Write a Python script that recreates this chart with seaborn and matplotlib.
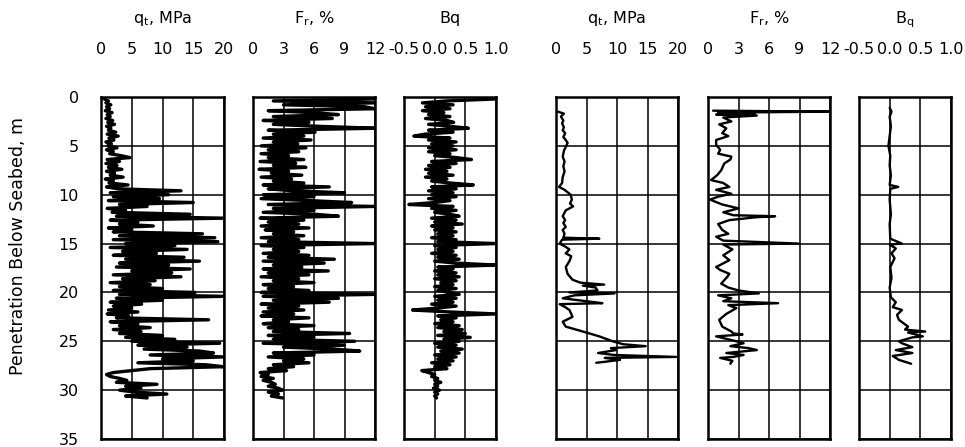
import numpy as np
import pandas as pd
import matplotlib
matplotlib.use("Agg")
import matplotlib.pyplot as plt
import seaborn as sns

# ---------------- data ----------------
# Left profile (dense CPT record, sampled every 0.2 m from 0.2 m to 30.8 m)
left_step_m = 0.2
left_qt = [
    0.5, 1.2, 0.8, 1.6, 0.9, 1.4, 0.7, 1.8, 1.0, 1.5,
    0.8, 1.9, 1.1, 2.2, 0.9, 1.6, 1.2, 2.4, 1.0, 2.8,
    1.3, 2.1, 0.8, 1.7, 1.1, 2.6, 0.9, 2.0, 1.4, 3.2,
    4.7, 1.0, 3.0, 0.8, 2.6, 1.2, 3.4, 0.9, 2.2, 1.5,
    3.6, 0.7, 2.0, 1.3, 4.4, 0.9, 2.8, 13.0, 1.5, 11.0,
    2.0, 9.5, 1.2, 15.0, 3.0, 7.5, 1.0, 4.0, 1.8, 14.5,
    2.5, 20.0, 1.5, 6.0, 3.0, 8.5, 1.2, 5.0, 2.0, 16.5,
    3.0, 18.5, 2.0, 19.0, 4.0, 12.0, 1.5, 14.0, 3.5, 9.0,
    2.0, 13.5, 4.0, 16.0, 3.0, 11.0, 2.5, 14.5, 5.0, 11.5,
    2.0, 13.0, 3.5, 8.8, 1.5, 8.0, 3.0, 10.0, 2.0, 15.3,
    3.0, 20.0, 2.5, 10.0, 1.5, 6.6, 2.0, 5.0, 1.2, 6.0,
    1.0, 4.5, 2.5, 17.5, 1.5, 6.0, 3.0, 8.0, 2.0, 6.5,
    3.0, 10.0, 4.0, 12.0, 5.0, 19.3, 6.0, 14.0, 7.0, 16.0,
    18.3, 8.0, 19.9, 10.0, 15.0, 6.0, 17.0, 19.9, 8.0, 5.0,
    2.0, 0.9, 1.5, 3.0, 4.2, 2.5, 9.1, 4.0, 6.5, 3.0,
    5.5, 10.7, 4.0, 7.5,
]
left_fr = [
    12.0, 2.0, 12.0, 3.0, 11.0, 12.0, 1.5, 6.0, 8.4, 2.0,
    7.8, 1.0, 5.5, 2.0, 6.5, 12.0, 1.5, 6.1, 2.0, 5.0,
    1.0, 5.7, 2.0, 4.4, 0.8, 5.2, 1.5, 4.5, 0.8, 3.5,
    1.5, 5.0, 0.7, 4.2, 2.0, 5.2, 0.6, 3.5, 1.8, 4.8,
    0.8, 3.8, 2.0, 5.0, 1.0, 7.5, 1.5, 4.0, 9.0, 1.0,
    6.0, 0.8, 5.5, 9.7, 1.5, 12.0, 2.0, 6.0, 1.0, 6.1,
    8.4, 0.7, 5.0, 1.5, 4.5, 0.8, 5.5, 1.2, 4.0, 2.0,
    5.0, 0.8, 4.5, 1.5, 12.0, 0.8, 5.0, 2.0, 4.5, 1.0,
    5.5, 1.5, 8.0, 1.0, 7.0, 2.0, 4.8, 1.0, 7.4, 1.5,
    5.5, 0.8, 4.5, 2.0, 6.0, 1.0, 4.0, 1.5, 5.5, 0.8,
    12.0, 1.0, 8.4, 2.0, 7.5, 0.8, 4.5, 1.5, 5.0, 1.0,
    4.0, 0.8, 5.5, 2.0, 3.5, 1.0, 6.0, 1.5, 4.5, 2.0,
    9.5, 1.5, 6.0, 2.0, 10.0, 1.0, 9.0, 3.0, 8.0, 10.5,
    2.0, 6.0, 1.5, 5.0, 3.0, 5.5, 2.0, 4.0, 1.5, 3.3,
    0.7, 1.5, 0.8, 2.0, 1.0, 1.8, 2.2, 1.5, 2.5, 2.9,
    1.5, 2.5, 1.8, 2.9,
]
left_bq = [
    1.0, 0.2, -0.2, 0.3, -0.15, 0.25, -0.2, 0.15, -0.1, 0.25,
    -0.15, 0.2, 0.31, -0.1, 0.25, 0.55, -0.1, 0.3, -0.15, -0.34,
    0.25, -0.1, 0.35, -0.05, 0.3, -0.1, 0.35, -0.1, 0.25, 0.0,
    0.35, 0.6, -0.05, 0.35, -0.1, 0.25, -0.15, 0.2, -0.1, 0.3,
    -0.15, 0.2, -0.05, 0.25, 0.63, -0.05, 0.35, -0.1, 0.3, -0.05,
    0.35, -0.1, 0.25, 0.0, -0.42, 0.3, -0.05, 0.35, 0.0, 0.25,
    0.4, -0.05, 0.35, 0.0, 0.45, -0.05, 0.3, 0.0, 0.35, 0.05,
    0.3, -0.05, 0.35, 0.05, 1.0, 0.0, 0.35, 0.05, 0.3, -0.05,
    0.35, 0.05, 0.4, 0.0, 0.35, 1.0, 0.05, 0.3, 0.0, 0.35,
    0.05, 0.4, 0.0, 0.35, 0.1, 0.3, 0.0, 0.35, 0.05, 0.25,
    0.4, 0.0, 0.35, 0.05, 0.3, -0.05, 0.35, 0.05, -0.36, 0.25,
    1.0, 0.05, 0.35, 0.1, 0.3, 0.0, 0.4, 0.05, 0.45, 0.15,
    0.5, 0.05, 0.58, 0.15, 0.4, 0.0, 0.35, 0.05, 0.45, 0.1,
    0.4, 0.0, 0.35, 0.05, 0.3, -0.05, 0.25, 0.0, 0.2, -0.21,
    -0.1, 0.0, -0.05, 0.05, 0.0, 0.1, 0.0, 0.05, -0.02, 0.08,
    0.0, 0.05, 0.0, 0.03,
]

# Right profile (sparser record)
right_qt_depth = [1.5, 1.7, 2.0, 2.4, 2.7, 3.1, 3.4, 3.7, 4.1, 4.4, 4.7, 5.1, 5.5,
                  6.1, 6.6, 7.1, 7.6, 8.2, 8.8, 9.2, 9.5, 10.0, 10.5, 10.9, 11.2,
                  11.6, 12.2, 12.6, 12.9, 13.3, 13.6, 14.0, 14.4, 14.5, 14.6, 15.0,
                  15.3, 15.6, 16.0, 16.3, 16.8, 17.4, 18.1, 18.7, 19.0, 19.2, 19.3,
                  19.5, 19.8, 20.0, 20.1, 20.3, 20.6, 20.9, 21.1, 21.2, 21.5, 21.8,
                  22.2, 22.5, 23.0, 23.5, 24.0, 24.5, 25.0, 25.3, 25.5, 25.7, 25.9,
                  26.2, 26.4, 26.6, 26.7, 26.9, 27.1, 27.2]
right_qt = [0.3, 1.3, 0.8, 1.2, 1.0, 1.3, 1.1, 1.5, 1.2, 1.6, 1.9, 1.6, 1.3,
            1.1, 1.4, 1.2, 1.4, 1.1, 1.0, 0.5, 1.4, 2.4, 2.6, 2.3, 2.8,
            1.6, 1.1, 1.5, 1.2, 1.6, 1.1, 1.4, 1.2, 7.1, 1.0, 0.6,
            1.5, 2.2, 1.6, 2.5, 2.2, 1.6, 1.9, 2.7, 4.0, 7.9, 4.4,
            6.5, 6.8, 2.2, 9.6, 3.0, 1.1, 5.0, 7.6, 0.6, 1.5, 2.2,
            2.5, 2.7, 1.1, 1.6, 4.4, 7.1, 9.3, 11.0, 14.7, 9.0, 9.8,
            6.9, 9.5, 19.7, 8.0, 10.5, 8.0, 6.6]

right_fr_depth = [1.4, 1.5, 1.6, 1.7, 1.8, 1.9, 2.1, 2.5, 2.8, 3.2, 3.7, 4.0, 4.4,
                  4.9, 5.4, 5.8, 6.1, 6.4, 6.8, 7.5, 8.0, 8.5, 8.8, 9.2, 9.5, 9.9,
                  10.2, 10.5, 11.0, 11.4, 11.8, 12.1, 12.2, 12.3, 12.6, 13.0, 13.6,
                  14.0, 14.3, 14.7, 15.0, 15.1, 15.6, 16.2, 16.7, 17.4, 17.7, 18.1,
                  18.4, 19.1, 19.5, 19.8, 20.1, 20.3, 20.6, 20.9, 21.1, 21.3, 21.6,
                  22.2, 22.8, 23.5, 24.0, 24.2, 24.3, 24.5, 25.0, 25.2, 25.5, 25.7,
                  25.9, 26.2, 26.4, 26.6, 26.7, 27.0, 27.3]
right_fr = [0.5, 12.0, 1.0, 4.6, 0.8, 4.8, 1.5, 2.3, 1.1, 1.8, 1.4, 2.0, 0.8,
            0.8, 1.2, 1.0, 2.3, 2.2, 1.6, 1.3, 0.9, 0.3, 1.5, 2.1, 0.8, 2.3,
            1.0, 0.2, 1.4, 3.0, 1.5, 2.5, 6.6, 4.8, 2.1, 1.0, 1.4,
            2.0, 0.8, 1.5, 8.9, 1.5, 2.4, 1.5, 2.1, 0.8, 1.2, 2.1,
            1.9, 1.3, 2.0, 3.0, 5.0, 1.0, 2.3, 1.5, 6.9, 2.0, 2.8,
            1.8, 1.1, 1.4, 2.3, 2.5, 3.4, 0.8, 2.8, 3.5, 2.2, 4.0,
            4.8, 1.8, 3.5, 2.5, 1.2, 2.4, 2.2]

right_bq_depth = [1.1, 1.5, 2.0, 3.0, 4.0, 5.0, 6.0, 7.0, 8.0, 9.0, 9.2, 9.4,
                  10.5, 12.0, 13.0, 14.5, 15.0, 15.1, 15.5, 16.0, 16.5, 17.4,
                  18.5, 19.5, 20.5, 21.0, 21.5, 21.8, 22.3, 22.8, 23.5, 23.8,
                  24.0, 24.1, 24.5, 24.6, 25.0, 25.2, 25.6, 25.9, 26.2, 26.5,
                  26.9, 27.3]
right_bq = [0.0, 0.03, 0.0, 0.02, 0.0, -0.02, 0.01, 0.0, 0.02, 0.0, 0.14, 0.01,
            0.0, 0.02, 0.0, 0.01, 0.2, 0.0, 0.1, 0.03, 0.08, 0.01,
            0.03, 0.0, 0.02, 0.1, 0.05, 0.2, 0.12, 0.15, 0.3, 0.25,
            0.58, 0.3, 0.54, 0.37, 0.15, 0.2, 0.37, 0.1, 0.37, 0.05,
            0.15, 0.35]

# axis definitions
qt_ticks = [0, 5, 10, 15, 20]
fr_ticks = [0, 3, 6, 9, 12]
bq_ticks = [-0.5, 0.0, 0.5, 1.0]
depth_ticks = [0, 5, 10, 15, 20, 25, 30, 35]

titles = [r"q$_{\rm t}$, MPa", r"F$_{\rm r}$, %", "Bq",
          r"q$_{\rm t}$, MPa", r"F$_{\rm r}$, %", r"B$_{\rm q}$"]

# ---------------- figure ----------------
sns.set_style("white")
plt.rcParams["font.family"] = ["DejaVu Sans"]
plt.rcParams["mathtext.fontset"] = "dejavusans"
for key in ["text.color", "axes.labelcolor", "xtick.color", "ytick.color"]:
    plt.rcParams[key] = "black"

W, H = 965, 447
fig = plt.figure(figsize=(W / 100, H / 100), dpi=100)

panel_px = [(101, 123), (253, 122), (404, 92), (556, 122), (708, 122), (859, 92)]
top_px, bot_px = 97, 439

left_depth = np.round(np.arange(1, len(left_qt) + 1) * left_step_m, 2)
series = [
    (left_qt, left_depth, qt_ticks, "{:g}", 2.4),
    (left_fr, left_depth, fr_ticks, "{:g}", 2.4),
    (left_bq, left_depth, bq_ticks, "{:.1f}", 2.4),
    (right_qt, right_qt_depth, qt_ticks, "{:g}", 1.7),
    (right_fr, right_fr_depth, fr_ticks, "{:g}", 1.7),
    (right_bq, right_bq_depth, bq_ticks, "{:.1f}", 1.7),
]

FS = 11.5
axes = []
for i, ((x0, w), (vals, dep, ticks, fmt, lw)) in enumerate(zip(panel_px, series)):
    ax = fig.add_axes([x0 / W, 1 - bot_px / H, w / W, (bot_px - top_px) / H])
    df = pd.DataFrame({"value": vals, "depth": dep})
    sns.lineplot(data=df, x="value", y="depth", sort=False, estimator=None,
                 color="black", lw=lw, ax=ax)
    ax.set_xlim(ticks[0], ticks[-1])
    ax.set_ylim(35, 0)
    ax.set_xticks(ticks)
    ax.set_xticklabels([fmt.format(t) for t in ticks])
    ax.set_yticks(depth_ticks)
    ax.xaxis.tick_top()
    ax.tick_params(axis="x", length=0, pad=29, labelsize=FS)
    ax.tick_params(axis="y", length=0, pad=16, labelsize=FS)
    ax.grid(True, color="black", lw=1.1)
    for s in ax.spines.values():
        s.set_visible(True)
        s.set_color("black")
        s.set_linewidth(1.8)
    ax.set_xlabel("")
    ax.set_ylabel("")
    ax.set_title(titles[i], fontsize=FS, pad=53)
    if i > 0:
        ax.tick_params(axis="y", labelleft=False)
    axes.append(ax)

axes[0].set_ylabel("Penetration Below Seabed, m", fontsize=12.5)
axes[0].yaxis.set_label_coords(-0.60, 0.565)

fig.savefig("out.png", dpi=100, facecolor="white")
